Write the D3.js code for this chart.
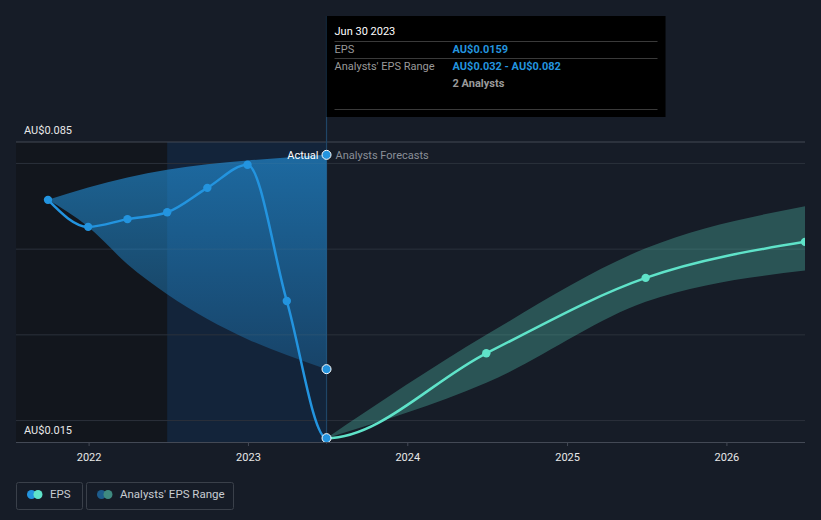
<!DOCTYPE html>
<html>
<head>
<meta charset="utf-8">
<script src="https://cdn.jsdelivr.net/npm/d3@7"></script>
<style>
  body { margin: 0; background: #161c27; }
  svg { display: block; font-family: Roboto, "Open Sans", sans-serif; }
</style>
</head>
<body>
<div class="epsChart"></div>
<script>
// quarterly reported EPS (AU$)
var histDates = ["2021-09-30", "2021-12-31", "2022-03-31", "2022-06-30", "2022-09-30", "2022-12-31", "2023-03-31", "2023-06-30"];
var histEps = [0.0715, 0.0652, 0.0670, 0.0686, 0.0743, 0.0797, 0.0479, 0.0159];
var pastRangeHigh = [0.0715, 0.0744, 0.0767, 0.0785, 0.0798, 0.0807, 0.0814, 0.082];
var pastRangeLow = [0.0715, 0.0652, 0.0565, 0.0495, 0.0437, 0.0390, 0.0353, 0.032];

// analyst forecasts
var fcDates = ["2023-06-30", "2024-06-30", "2025-06-30", "2026-06-30"];
var fcEps = [0.0159, 0.0357, 0.0533, 0.0617];
var fcHigh = [0.0159, 0.0400, 0.0602, 0.0700];
var fcLow = [0.0159, 0.0288, 0.0477, 0.0550];

var yLabels = [0.085, 0.015];
var gridValues = [0.08, 0.06, 0.04, 0.02];
var xTickYears = [2022, 2023, 2024, 2025, 2026];
var pastStart = "2022-06-30";
var hoverDate = "2023-06-30";

function init() {
  var w = 821;
  var h = 520;
  var left = 16, right = 805, top = 142, bottom = 442;
  var parse = d3.timeParse("%Y-%m-%d");

  var hist = histDates.map(function(d, i) {
    return { date: parse(d), eps: histEps[i], hi: pastRangeHigh[i], lo: pastRangeLow[i] };
  });
  var fc = fcDates.map(function(d, i) {
    return { date: parse(d), eps: fcEps[i], hi: fcHigh[i], lo: fcLow[i] };
  });
  // one continuous EPS series, coloured differently either side of the last report
  var allEps = hist.concat(fc.slice(1));

  var xScale = d3.scaleTime()
    .domain([parse(histDates[0]), parse(fcDates[fcDates.length - 1])])
    .range([48, right]);

  var yScale = d3.scaleLinear()
    .domain([0.015, 0.085])
    .range([bottom, top]);

  var xHover = xScale(parse(hoverDate));
  var xPast = xScale(parse(pastStart));

  var svg = d3.select(".epsChart")
    .append("svg")
    .attr("width", w)
    .attr("height", h);

  var defs = svg.append("defs");
  defs.append("clipPath").attr("id", "plotClip")
    .append("rect").attr("x", left).attr("y", 0).attr("width", right - left).attr("height", bottom + 2);
  defs.append("clipPath").attr("id", "pastClip")
    .append("rect").attr("x", 0).attr("y", 0).attr("width", xHover).attr("height", h);
  defs.append("clipPath").attr("id", "futureClip")
    .append("rect").attr("x", xHover).attr("y", 0).attr("width", right - xHover).attr("height", h);

  var grad = defs.append("linearGradient").attr("id", "pastGrad")
    .attr("x1", 0).attr("y1", 0).attr("x2", 0).attr("y2", 1);
  grad.append("stop").attr("offset", "0%").attr("stop-color", "#2394df").attr("stop-opacity", 0.62);
  grad.append("stop").attr("offset", "100%").attr("stop-color", "#2394df").attr("stop-opacity", 0.28);

  // past shading
  svg.append("rect")
    .attr("x", left).attr("y", top)
    .attr("width", xHover - left).attr("height", bottom - top)
    .attr("fill", "#12161d");
  svg.append("rect")
    .attr("x", xPast).attr("y", top)
    .attr("width", xHover - xPast).attr("height", bottom - top)
    .attr("fill", "#13243a");

  // gridlines
  svg.selectAll("line.grid")
    .data(gridValues)
    .enter()
    .append("line")
    .attr("class", "grid")
    .attr("x1", left).attr("x2", right)
    .attr("y1", function(d) { return yScale(d); })
    .attr("y2", function(d) { return yScale(d); })
    .attr("stroke", "#2b313b")
    .attr("stroke-width", 1);

  svg.append("line")
    .attr("x1", left).attr("x2", right)
    .attr("y1", yScale(0.085)).attr("y2", yScale(0.085))
    .attr("stroke", "#434955");

  // hover guide
  svg.append("line")
    .attr("x1", xHover).attr("x2", xHover)
    .attr("y1", 16).attr("y2", bottom)
    .attr("stroke", "#1f4566")
    .attr("stroke-width", 1.2);

  var plot = svg.append("g").attr("clip-path", "url(#plotClip)");

  var area = d3.area()
    .x(function(d) { return xScale(d.date); })
    .y0(function(d) { return yScale(d.lo); })
    .y1(function(d) { return yScale(d.hi); })
    .curve(d3.curveMonotoneX);

  plot.append("path")
    .datum(hist)
    .attr("d", area)
    .attr("fill", "url(#pastGrad)");

  plot.append("path")
    .datum(fc)
    .attr("d", area)
    .attr("fill", "#58d6c0")
    .attr("fill-opacity", 0.3);

  var line = d3.line()
    .x(function(d) { return xScale(d.date); })
    .y(function(d) { return yScale(d.eps); })
    .curve(d3.curveMonotoneX);

  plot.append("g").attr("clip-path", "url(#pastClip)")
    .append("path")
    .datum(allEps)
    .attr("d", line)
    .attr("fill", "none")
    .attr("stroke", "#2394df")
    .attr("stroke-width", 2.5);

  plot.append("g").attr("clip-path", "url(#futureClip)")
    .append("path")
    .datum(allEps)
    .attr("d", line)
    .attr("fill", "none")
    .attr("stroke", "#5fe3c9")
    .attr("stroke-width", 2.5);

  plot.selectAll("circle.hist")
    .data(hist.slice(0, hist.length - 1))
    .enter()
    .append("circle")
    .attr("class", "hist")
    .attr("cx", function(d) { return xScale(d.date); })
    .attr("cy", function(d) { return yScale(d.eps); })
    .attr("r", 4.2)
    .attr("fill", "#2394df");

  plot.selectAll("circle.fc")
    .data(fc.slice(1))
    .enter()
    .append("circle")
    .attr("class", "fc")
    .attr("cx", function(d) { return xScale(d.date); })
    .attr("cy", function(d) { return yScale(d.eps); })
    .attr("r", 4.2)
    .attr("fill", "#5fe3c9");

  // hovered points
  var last = hist[hist.length - 1];
  [last.eps, last.lo, last.hi].forEach(function(v) {
    svg.append("circle")
      .attr("cx", xHover)
      .attr("cy", yScale(v))
      .attr("r", 4.5)
      .attr("fill", "#2394df")
      .attr("stroke", "#ffffff")
      .attr("stroke-width", 1);
  });

  svg.append("text")
    .text("Actual")
    .attr("x", xHover - 8).attr("y", yScale(last.hi) + 4)
    .attr("text-anchor", "end")
    .attr("font-size", "11px")
    .attr("fill", "#ffffff");
  svg.append("text")
    .text("Analysts Forecasts")
    .attr("x", xHover + 9).attr("y", yScale(last.hi) + 4)
    .attr("font-size", "11px")
    .attr("fill", "#8a8f98");

  // y labels
  svg.selectAll("text.ylab")
    .data(yLabels)
    .enter()
    .append("text")
    .attr("class", "ylab")
    .text(function(d) { return "AU$" + d3.format(".3f")(d); })
    .attr("x", 24)
    .attr("y", function(d) { return yScale(d) - 8; })
    .attr("font-size", "11px")
    .attr("fill", "#e8e8e8");

  // x axis
  var xAxis = d3.axisBottom(xScale)
    .tickValues(xTickYears.map(function(y) { return new Date(y, 0, 1); }))
    .tickFormat(d3.timeFormat("%Y"))
    .tickSize(4)
    .tickPadding(7);

  var gx = svg.append("g")
    .attr("transform", "translate(0," + bottom + ")")
    .call(xAxis);
  gx.select(".domain").attr("d", "M" + left + ",0.5H" + right).attr("stroke", "#434955");
  gx.selectAll(".tick line").attr("stroke", "#434955");
  gx.selectAll(".tick text")
    .attr("fill", "#e8e8e8")
    .attr("font-size", "11px")
    .attr("font-family", "Roboto, sans-serif");

  // tooltip
  var tip = svg.append("g");
  tip.append("rect")
    .attr("x", xHover).attr("y", 16)
    .attr("width", 339).attr("height", 101)
    .attr("fill", "#000000");
  [41, 58, 109].forEach(function(y) {
    tip.append("line")
      .attr("x1", xHover + 8).attr("x2", xHover + 331)
      .attr("y1", y + 0.5).attr("y2", y + 0.5)
      .attr("stroke", "#3a3a3a");
  });
  tip.append("text").text("Jun 30 2023")
    .attr("x", xHover + 8).attr("y", 35)
    .attr("font-size", "11px").attr("fill", "#ffffff");
  tip.append("text").text("EPS")
    .attr("x", xHover + 8).attr("y", 53)
    .attr("font-size", "11px").attr("fill", "#9a9a9a");
  tip.append("text").text("AU$" + last.eps.toFixed(4))
    .attr("x", xHover + 126).attr("y", 53)
    .attr("font-size", "11px").attr("font-weight", "bold").attr("fill", "#2394df");
  tip.append("text").text("Analysts' EPS Range")
    .attr("x", xHover + 8).attr("y", 70)
    .attr("font-size", "11px").attr("fill", "#9a9a9a");
  tip.append("text").text("AU$" + last.lo.toFixed(3) + " - AU$" + last.hi.toFixed(3))
    .attr("x", xHover + 126).attr("y", 70)
    .attr("font-size", "11px").attr("font-weight", "bold").attr("fill", "#2394df");
  tip.append("text").text("2 Analysts")
    .attr("x", xHover + 126).attr("y", 87)
    .attr("font-size", "11px").attr("font-weight", "bold").attr("fill", "#9a9a9a");

  // legend
  var legendItems = [
    { label: "EPS", x: 16, w: 66, c1: "#2394df", c2: "#5fe3c9" },
    { label: "Analysts' EPS Range", x: 86, w: 147, c1: "#1d5c8c", c2: "#3f8a80" }
  ];
  var lg = svg.selectAll("g.legend")
    .data(legendItems)
    .enter()
    .append("g")
    .attr("class", "legend")
    .attr("transform", function(d) { return "translate(" + d.x + ",482)"; });
  lg.append("rect")
    .attr("x", 0.5).attr("y", 0.5)
    .attr("width", function(d) { return d.w; }).attr("height", 27)
    .attr("rx", 2)
    .attr("fill", "none")
    .attr("stroke", "#3a404a");
  lg.append("circle").attr("cx", 15.5).attr("cy", 12.5).attr("r", 4.5)
    .attr("fill", function(d) { return d.c1; });
  lg.append("circle").attr("cx", 22).attr("cy", 12.5).attr("r", 4.5)
    .attr("fill", function(d) { return d.c2; });
  lg.append("text")
    .text(function(d) { return d.label; })
    .attr("x", 34).attr("y", 16)
    .attr("font-size", "11.5px")
    .attr("fill", "#c8ccd2");
}

window.onload = init;
</script>
</body>
</html>
